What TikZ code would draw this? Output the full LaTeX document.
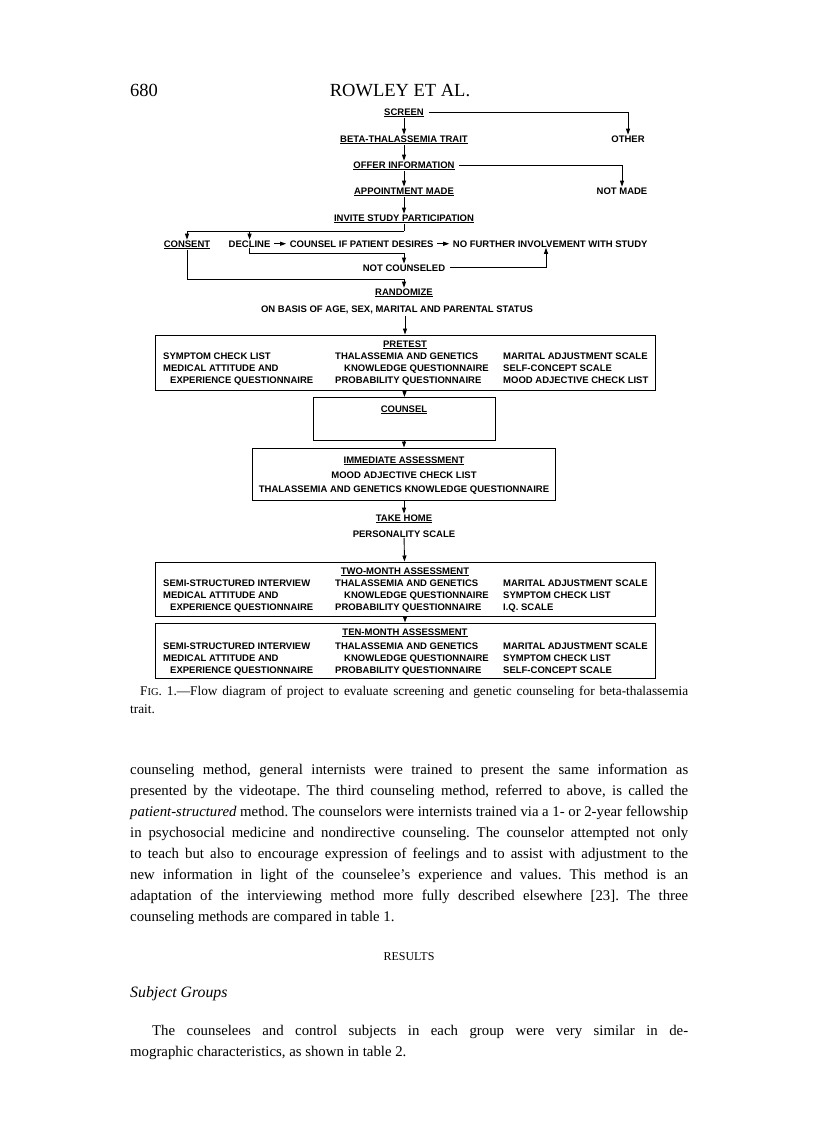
\documentclass[tikz,border=0pt]{standalone}
\usepackage{fontspec}
\setmainfont{Liberation Serif}
\setsansfont{Liberation Sans}
\usepackage{tikz}
\usetikzlibrary{arrows.meta, positioning, calc}
\newcommand\bodyspacing{\frenchspacing\spaceskip=0.25em plus 0.5em minus 0.1em\relax}
\tikzstyle{lbl} = [font=\sffamily\bfseries\fontsize{9.5}{12}\selectfont, inner sep=0.5pt, anchor=base]
\tikzstyle{col} = [font=\sffamily\bfseries\fontsize{9.5}{12}\selectfont, inner sep=0pt, anchor=north west, align=left]
\tikzstyle{box} = [rectangle, draw=black, line width=1pt, inner sep=0pt]
\tikzstyle{line} = [line width=0.9pt]
\tikzstyle{arrow} = [line width=0.9pt, -{Triangle[length=6pt, width=4pt]}]
\tikzstyle{para} = [font=\fontsize{14.8}{21}\selectfont\bodyspacing, inner sep=0pt, anchor=north west, text width=558pt, align=justify]

\begin{document}
\begin{tikzpicture}[x=1pt, y=-1pt]
  \useasboundingbox (0,0) rectangle (816,1122);
  \node[inner sep=0pt, anchor=base west, font=\fontsize{18.5}{20}\selectfont] (pagenum) at (130,96) {680};
  \node[inner sep=0pt, anchor=base, font=\fontsize{18.5}{20}\selectfont] (runhead) at (400,96) {ROWLEY ET AL.};

  % screening chain
  \node[lbl] (screen) at (404,115) {\underline{SCREEN}};
  \node[lbl] (other) at (628,142) {OTHER};
  \node[lbl] (beta) at (404,142) {\underline{BETA-THALASSEMIA TRAIT}};
  \node[lbl] (offer) at (404,168) {\underline{OFFER INFORMATION}};
  \node[lbl] (notmade) at (622,194) {NOT MADE};
  \node[lbl] (appt) at (404,194) {\underline{APPOINTMENT MADE}};
  \node[lbl] (invite) at (404,221) {\underline{INVITE STUDY PARTICIPATION}};

  \node[lbl] (consent) at (187,247) {\underline{CONSENT}};
  \node[lbl, anchor=base west] (decline) at (228,247) {DECLINE};
  \node[lbl, base right=18pt of decline] (desires) {COUNSEL IF PATIENT DESIRES};
  \node[lbl, base right=18pt of desires] (nofurther) {NO FURTHER INVOLVEMENT WITH STUDY};
  \node[lbl] (notcounseled) at (404,271) {NOT COUNSELED};
  \node[lbl] (randomize) at (404,295) {\underline{RANDOMIZE}};
  \node[lbl] (basis) at (397,312) {ON BASIS OF AGE, SEX, MARITAL AND PARENTAL STATUS};

  \draw[arrow] (screen) -- (beta);
  \draw[arrow] (beta) -- (offer);
  \draw[arrow] (offer) -- (appt);
  \draw[arrow] (appt) -- (invite);
  \draw[arrow, shorten <=4pt] (screen.east) -| (other.north);
  \draw[arrow, shorten <=4pt] (offer.east) -| (notmade.north);

  \coordinate (split) at (404,231);
  \draw[line] (invite.south) -- (split);
  \draw[arrow] (split) -| (consent.north);
  \draw[arrow] (split -| decline.north) -- (decline.north);
  \draw[arrow, shorten <=3pt, shorten >=3pt] (decline) -- (desires);
  \draw[arrow, shorten <=3pt, shorten >=3pt] (desires) -- (nofurther);
  \draw[arrow] (decline.south) -- ++(0,6) -| (notcounseled.north);
  \coordinate (involve) at (546,0);
  \draw[arrow, shorten <=4pt] (notcounseled.east) -| (involve |- nofurther.south);
  \draw[arrow] (consent.south) |- ([yshift=8pt]randomize.north) -- (randomize.north);

  % pretest
  \node[box, minimum width=500pt, minimum height=55pt] (pretest) at (405,362.5) {};
  \node[lbl] (pretesttitle) at (405,347) {\underline{PRETEST}};
  \node[col] (pretestA) at (163,352.5) {SYMPTOM CHECK LIST\\MEDICAL ATTITUDE AND\\\hspace*{7pt}EXPERIENCE QUESTIONNAIRE};
  \node[col] (pretestB) at (335,352.5) {THALASSEMIA AND GENETICS\\\hspace*{9pt}KNOWLEDGE QUESTIONNAIRE\\PROBABILITY QUESTIONNAIRE};
  \node[col] (pretestC) at (503,352.5) {MARITAL ADJUSTMENT SCALE\\SELF-CONCEPT SCALE\\MOOD ADJECTIVE CHECK LIST};
  \draw[arrow, shorten <=2pt] (pretest.north |- basis.south) -- (pretest.north);

  % counsel
  \node[box, minimum width=182pt, minimum height=43pt] (counsel) at (404,419) {};
  \node[lbl] (counseltitle) at (404,412) {\underline{COUNSEL}};
  \draw[arrow] (pretest) -- (counsel);

  % immediate
  \node[box, minimum width=303pt, minimum height=52pt] (immediate) at (404,474) {};
  \node[lbl] (immtitle) at (404,463) {\underline{IMMEDIATE ASSESSMENT}};
  \node[lbl] (immA) at (404,478) {MOOD ADJECTIVE CHECK LIST};
  \node[lbl] (immB) at (404,492) {THALASSEMIA AND GENETICS KNOWLEDGE QUESTIONNAIRE};
  \draw[arrow] (counsel) -- (immediate);

  \node[lbl] (takehome) at (404,521) {\underline{TAKE HOME}};
  \node[lbl] (personality) at (404,537) {PERSONALITY SCALE};
  \draw[arrow] (immediate) -- (takehome);

  % two-month
  \node[box, minimum width=500pt, minimum height=54pt] (twomonth) at (405,589) {};
  \node[lbl] (twotitle) at (405,574) {\underline{TWO-MONTH ASSESSMENT}};
  \node[col] (twoA) at (163,579.5) {SEMI-STRUCTURED INTERVIEW\\MEDICAL ATTITUDE AND\\\hspace*{7pt}EXPERIENCE QUESTIONNAIRE};
  \node[col] (twoB) at (335,579.5) {THALASSEMIA AND GENETICS\\\hspace*{9pt}KNOWLEDGE QUESTIONNAIRE\\PROBABILITY QUESTIONNAIRE};
  \node[col] (twoC) at (503,579.5) {MARITAL ADJUSTMENT SCALE\\SYMPTOM CHECK LIST\\I.Q. SCALE};
  \draw[arrow] (personality) -- (twomonth);

  % ten-month
  \node[box, minimum width=500pt, minimum height=55pt] (tenmonth) at (405,650.5) {};
  \node[lbl] (tentitle) at (405,635) {\underline{TEN-MONTH ASSESSMENT}};
  \node[col] (tenA) at (163,642.5) {SEMI-STRUCTURED INTERVIEW\\MEDICAL ATTITUDE AND\\\hspace*{7pt}EXPERIENCE QUESTIONNAIRE};
  \node[col] (tenB) at (335,642.5) {THALASSEMIA AND GENETICS\\\hspace*{9pt}KNOWLEDGE QUESTIONNAIRE\\PROBABILITY QUESTIONNAIRE};
  \node[col] (tenC) at (503,642.5) {MARITAL ADJUSTMENT SCALE\\SYMPTOM CHECK LIST\\SELF-CONCEPT SCALE};
  \draw[arrow] (twomonth) -- (tenmonth);

  % caption and running text
  \node[para, font=\fontsize{13.3}{18}\selectfont\bodyspacing] (caption) at (130,686) {\hspace*{10pt}F{\fontsize{10.5}{18}\selectfont IG}. 1.---Flow diagram of project to evaluate screening and genetic counseling for beta-thalassemia\linebreak trait.};
  \node[para] (body) at (130,763.5) {counseling method, general internists were trained to present the same information as\linebreak presented by the videotape. The third counseling method, referred to above, is called the\linebreak \textit{patient-structured} method. The counselors were internists trained via a 1- or 2-year fellowship\linebreak in psychosocial medicine and nondirective counseling. The counselor attempted not only\linebreak to teach but also to encourage expression of feelings and to assist with adjustment to the\linebreak new information in light of the counselee's experience and values. This method is an\linebreak adaptation of the interviewing method more fully described elsewhere [23]. The three\linebreak counseling methods are compared in table 1.};
  \node[inner sep=0pt, anchor=base, font=\fontsize{12}{14}\selectfont] (results) at (409,960) {RESULTS};
  \node[inner sep=0pt, anchor=base west, font=\fontsize{15.8}{18}\selectfont\itshape] (subhead) at (130,997) {Subject Groups};
  \node[para] (body2) at (130,1025.5) {\hspace*{22pt}The counselees and control subjects in each group were very similar in de-\linebreak mographic characteristics, as shown in table 2.};
\end{tikzpicture}
\end{document}
